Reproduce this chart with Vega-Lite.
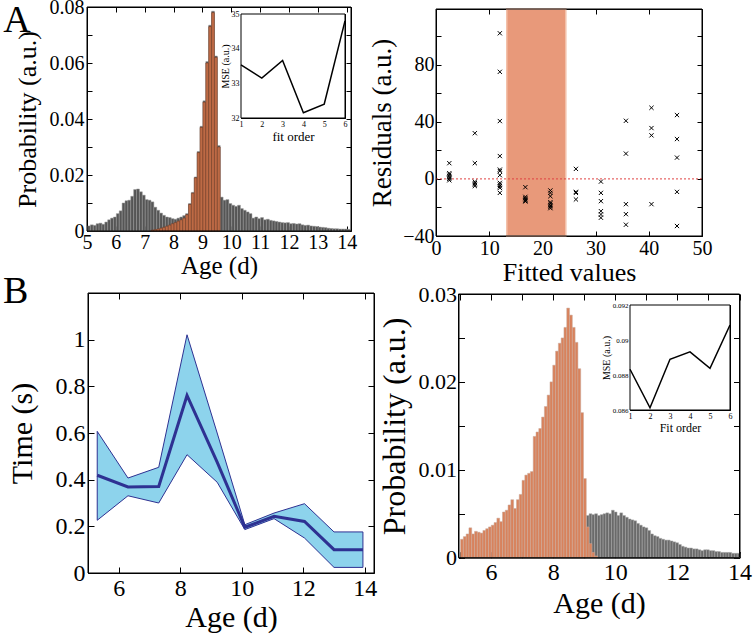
{
"$schema":"https://vega.github.io/schema/vega-lite/v6.json",
"width":754,"height":642,"autosize":{"type":"none"},"padding":0,"background":"white",
"config":{"view":{"stroke":null},"font":"Liberation Serif","style":{"guide-label":{"font":"Liberation Serif"},"guide-title":{"font":"Liberation Serif"}},"axis":{"labelFont":"Liberation Serif","titleFont":"Liberation Serif","titleFontWeight":"normal","labelColor":"#000","titleColor":"#000","domainColor":"#000","tickColor":"#000","grid":false,"labelFlush":false,"labelOverlap":false,"tickWidth":1,"domainWidth":1}},
"resolve":{"scale":{"x":"independent","y":"independent"},"axis":{"x":"independent","y":"independent"}},
"layer":[
{
"resolve":{"axis":{"x":"independent","y":"independent"}},
"layer":[
{"data":{"values":[{"x":5.05,"p":0.0018},{"x":5.15,"p":0.0022},{"x":5.25,"p":0.002},{"x":5.35,"p":0.0026},{"x":5.45,"p":0.0028},{"x":5.55,"p":0.0024},{"x":5.65,"p":0.0032},{"x":5.75,"p":0.004},{"x":5.85,"p":0.0046},{"x":5.95,"p":0.005},{"x":6.05,"p":0.0062},{"x":6.15,"p":0.0072},{"x":6.25,"p":0.01},{"x":6.35,"p":0.0108},{"x":6.45,"p":0.011},{"x":6.55,"p":0.0124},{"x":6.65,"p":0.0148},{"x":6.75,"p":0.015},{"x":6.85,"p":0.014},{"x":6.95,"p":0.0128},{"x":7.05,"p":0.0112},{"x":7.15,"p":0.011},{"x":7.25,"p":0.0104},{"x":7.35,"p":0.0085},{"x":7.45,"p":0.0074},{"x":7.55,"p":0.0064},{"x":7.65,"p":0.0056},{"x":7.75,"p":0.005},{"x":7.85,"p":0.0048},{"x":7.95,"p":0.0044},{"x":8.05,"p":0.0042},{"x":8.15,"p":0.0046},{"x":8.25,"p":0.005},{"x":8.35,"p":0.0055},{"x":8.45,"p":0.0062},{"x":8.55,"p":0.0098},{"x":8.65,"p":0.0138},{"x":8.75,"p":0.0193},{"x":8.85,"p":0.0284},{"x":8.95,"p":0.0374},{"x":9.05,"p":0.0465},{"x":9.15,"p":0.0605},{"x":9.25,"p":0.0735},{"x":9.35,"p":0.0785},{"x":9.45,"p":0.0625},{"x":9.55,"p":0.0305},{"x":9.65,"p":0.0121},{"x":9.75,"p":0.011},{"x":9.85,"p":0.0112},{"x":9.95,"p":0.0098},{"x":10.05,"p":0.0092},{"x":10.15,"p":0.0088},{"x":10.25,"p":0.0092},{"x":10.35,"p":0.008},{"x":10.45,"p":0.0074},{"x":10.55,"p":0.0068},{"x":10.65,"p":0.0062},{"x":10.75,"p":0.0046},{"x":10.85,"p":0.005},{"x":10.95,"p":0.0044},{"x":11.05,"p":0.0048},{"x":11.15,"p":0.004},{"x":11.25,"p":0.0042},{"x":11.35,"p":0.0038},{"x":11.45,"p":0.0036},{"x":11.55,"p":0.0034},{"x":11.65,"p":0.0032},{"x":11.75,"p":0.003},{"x":11.85,"p":0.0029},{"x":11.95,"p":0.003},{"x":12.05,"p":0.0026},{"x":12.15,"p":0.0027},{"x":12.25,"p":0.0025},{"x":12.35,"p":0.0026},{"x":12.45,"p":0.0022},{"x":12.55,"p":0.002},{"x":12.65,"p":0.0021},{"x":12.75,"p":0.0018},{"x":12.85,"p":0.0017},{"x":12.95,"p":0.0016},{"x":13.05,"p":0.0014},{"x":13.15,"p":0.0013},{"x":13.25,"p":0.0012},{"x":13.35,"p":0.001},{"x":13.45,"p":0.0009},{"x":13.55,"p":0.0008},{"x":13.65,"p":0.0008},{"x":13.75,"p":0.0007},{"x":13.85,"p":0.0007},{"x":13.95,"p":0.0007},{"x":14.05,"p":0.0006}]},
 "mark":{"type":"bar","fill":"#555555","stroke":"#999999","strokeWidth":0.5,"binSpacing":0},
 "encoding":{
  "x":{"field":"x","type":"quantitative","bin":{"step":0.1,"extent":[5,14.1],"nice":false},"scale":{"domain":[5,14.15],"range":[87,351],"nice":false,"zero":false},
       "axis":{"orient":"bottom","offset":-411,"values":[5,6,7,8,9,10,11,12,13,14],"labelExpr":"format(datum.value,'~g')","tickSize":-5,"labelPadding":6,"labelFontSize":20,"title":"Age (d)","titleFontSize":25,"titlePadding":1}},
  "y":{"field":"p","type":"quantitative","scale":{"domain":[0,0.08],"range":[231,7],"nice":false},
       "axis":{"orient":"left","offset":-87,"values":[0,0.01,0.02,0.03,0.04,0.05,0.06,0.07,0.08],"labelExpr":"round(datum.value*100)%2==0 ? format(datum.value,'~g') : ''","tickSize":-5,"labelPadding":8,"labelFontSize":20,"title":"Probability (a.u.)","titleFontSize":26,"titlePadding":9}}
 }},
{"data":{"values":[{"x":7.25,"p":0.0003},{"x":7.35,"p":0.0005},{"x":7.45,"p":0.0007},{"x":7.55,"p":0.001},{"x":7.65,"p":0.0013},{"x":7.75,"p":0.0017},{"x":7.85,"p":0.0021},{"x":7.95,"p":0.0026},{"x":8.05,"p":0.003},{"x":8.15,"p":0.0035},{"x":8.25,"p":0.004},{"x":8.35,"p":0.0046},{"x":8.45,"p":0.0058},{"x":8.55,"p":0.0095},{"x":8.65,"p":0.0135},{"x":8.75,"p":0.019},{"x":8.85,"p":0.028},{"x":8.95,"p":0.037},{"x":9.05,"p":0.046},{"x":9.15,"p":0.06},{"x":9.25,"p":0.073},{"x":9.35,"p":0.078},{"x":9.45,"p":0.062},{"x":9.55,"p":0.03}]},
 "mark":{"type":"bar","fill":"#bd6a45","stroke":"#6e3a25","strokeWidth":0.5,"binSpacing":0},
 "encoding":{"x":{"field":"x","type":"quantitative","bin":{"step":0.1,"extent":[5,14.1],"nice":false},"axis":null},"y":{"field":"p","type":"quantitative","axis":null}}},
{"data":{"values":[{}]},
 "mark":{"type":"rect","filled":false,"stroke":"black","strokeWidth":1},
 "encoding":{"x":{"datum":5,"type":"quantitative","axis":{"orient":"top","offset":-7,"values":[5,6,7,8,9,10,11,12,13,14],"labels":false,"tickSize":-5,"title":null}},"x2":{"datum":14.15},
  "y":{"datum":0,"type":"quantitative","axis":{"orient":"right","offset":-403,"values":[0,0.01,0.02,0.03,0.04,0.05,0.06,0.07,0.08],"labels":false,"tickSize":-5,"title":null}},"y2":{"datum":0.08}}},
{"data":{"values":[{}]},
 "mark":{"type":"text","text":"A","font":"Liberation Serif","fontSize":38,"baseline":"alphabetic","align":"center"},
 "encoding":{"x":{"datum":2.57,"type":"quantitative","axis":null},"y":{"datum":0.0711,"type":"quantitative","axis":null}}}
]},
{
"resolve":{"axis":{"x":"independent","y":"independent"}},
"layer":[
{"data":{"values":[{}]},
 "mark":{"type":"rect","fill":"white","stroke":"black","strokeWidth":1},
 "encoding":{"x":{"datum":1,"type":"quantitative","scale":{"domain":[1,6],"range":[241,345],"nice":false,"zero":false},"axis":{"orient":"top","offset":-14,"values":[1,2,3,4,5,6],"labels":false,"tickSize":-3,"title":null}},"x2":{"datum":6},
  "y":{"datum":32,"type":"quantitative","scale":{"domain":[32,35],"range":[118,14],"nice":false,"zero":false},"axis":{"orient":"right","offset":-409,"values":[32,32.5,33,33.5,34,34.5,35],"labels":false,"tickSize":-3,"title":null}},"y2":{"datum":35}}},
{"data":{"values":[{"o":1,"m":33.53},{"o":2,"m":33.15},{"o":3,"m":33.66},{"o":4,"m":32.15},{"o":5,"m":32.4},{"o":6,"m":34.8}]},
 "mark":{"type":"line","color":"black","strokeWidth":1.5},
 "encoding":{"x":{"field":"o","type":"quantitative","axis":{"orient":"bottom","offset":-524,"values":[1,2,3,4,5,6],"tickSize":-3,"labelPadding":5,"labelFontSize":8,"title":"fit order","titleFontSize":13,"titlePadding":2}},
  "y":{"field":"m","type":"quantitative","axis":{"orient":"left","offset":-241,"values":[32,32.5,33,33.5,34,34.5,35],"labelExpr":"datum.value%1==0 ? format(datum.value,'~g') : ''","tickSize":-3,"labelPadding":5,"labelFontSize":8,"title":"MSE (a.u.)","titleFontSize":10,"titlePadding":1}}}}
]},
{
"resolve":{"axis":{"x":"independent","y":"independent"}},
"layer":[
{"data":{"values":[{}]},
 "mark":{"type":"rect","fill":"#e8997a","stroke":"#f3c1aa","strokeWidth":1.5},
 "encoding":{"x":{"datum":13.3,"type":"quantitative","scale":{"domain":[0,50],"range":[436,702],"nice":false,"zero":false},"axis":null},"x2":{"datum":24.4},
  "y":{"datum":-40,"type":"quantitative","scale":{"domain":[-40,119],"range":[236,9],"nice":false,"zero":false},"axis":null},"y2":{"datum":119}}},
{"data":{"values":[{}]},
 "mark":{"type":"rule","color":"#e04040","strokeWidth":1,"strokeDash":[2,2]},
 "encoding":{"x":{"datum":0,"type":"quantitative","axis":null},"x2":{"datum":50},"y":{"datum":0,"type":"quantitative","axis":null}}},
{"data":{"values":[{"x":2.5,"r":11},{"x":2.5,"r":4},{"x":2.5,"r":3},{"x":2.5,"r":2},{"x":2.5,"r":1},{"x":2.5,"r":0},{"x":2.5,"r":-1},
{"x":7.3,"r":32},{"x":7.3,"r":11},{"x":7.3,"r":-2},{"x":7.3,"r":-3},{"x":7.3,"r":-4},{"x":7.3,"r":-5},
{"x":12,"r":102},{"x":12,"r":75},{"x":12,"r":40.5},{"x":12,"r":16},{"x":12,"r":6.5},{"x":12,"r":5.5},{"x":12,"r":2.6},{"x":12,"r":-2.8},{"x":12,"r":-4},{"x":12,"r":-5.1},{"x":12,"r":-6.3},{"x":12,"r":-9.8},
{"x":16.8,"r":-5.8},{"x":16.8,"r":-12.6},{"x":16.8,"r":-13.5},{"x":16.8,"r":-14.4},{"x":16.8,"r":-15.3},{"x":16.8,"r":-15.8},
{"x":21.5,"r":-8.1},{"x":21.5,"r":-9.8},{"x":21.5,"r":-12.1},{"x":21.5,"r":-16.3},{"x":21.5,"r":-17.4},{"x":21.5,"r":-18.6},{"x":21.5,"r":-19.5},{"x":21.5,"r":-20.5},
{"x":26.3,"r":7},{"x":26.3,"r":-9.1},{"x":26.3,"r":-9.8},{"x":26.3,"r":-14.4},
{"x":31,"r":-1.9},{"x":31,"r":-9.8},{"x":31,"r":-15.6},{"x":31,"r":-22.6},{"x":31,"r":-24.9},{"x":31,"r":-27.2},
{"x":35.7,"r":40.7},{"x":35.7,"r":17.7},{"x":35.7,"r":-17.7},{"x":35.7,"r":-24.7},{"x":35.7,"r":-32.1},
{"x":40.5,"r":49.8},{"x":40.5,"r":35.6},{"x":40.5,"r":30.5},{"x":40.5,"r":-17.7},
{"x":45.3,"r":44.7},{"x":45.3,"r":27.9},{"x":45.3,"r":14.9},{"x":45.3,"r":-9.1},{"x":45.3,"r":-33}]},
 "mark":{"type":"point","shape":"M-1,-1L1,1M-1,1L1,-1","filled":false,"color":"black","strokeWidth":1,"size":18,"opacity":1},
 "encoding":{"x":{"field":"x","type":"quantitative","axis":{"orient":"bottom","offset":-406,"values":[0,10,20,30,40,50],"tickSize":-5,"labelPadding":7,"labelFontSize":20,"title":"Fitted values","titleFontSize":26,"titlePadding":1}},
  "y":{"field":"r","type":"quantitative","axis":{"orient":"left","offset":-436,"values":[-40,-20,0,20,40,60,80,100],"labelExpr":"datum.value%40==0 ? datum.label : ''","tickSize":-5,"labelPadding":7,"labelFontSize":20,"title":"Residuals (a.u.)","titleFontSize":27,"titlePadding":6}}}},
{"data":{"values":[{}]},
 "mark":{"type":"rect","filled":false,"stroke":"black","strokeWidth":1},
 "encoding":{"x":{"datum":0,"type":"quantitative","axis":{"orient":"top","offset":-9,"values":[0,10,20,30,40,50],"labels":false,"tickSize":-5,"title":null}},"x2":{"datum":50},
  "y":{"datum":-40,"type":"quantitative","axis":{"orient":"right","offset":-52,"values":[-40,-20,0,20,40,60,80,100],"labels":false,"tickSize":-5,"title":null}},"y2":{"datum":119}}}
]},
{
"resolve":{"axis":{"x":"independent","y":"independent"}},
"layer":[
{"data":{"values":[{"x":5.3,"lo":0.226,"m":0.419,"hi":0.607},{"x":6.3,"lo":0.331,"m":0.369,"hi":0.407},{"x":7.3,"lo":0.3,"m":0.371,"hi":0.453},{"x":8.22,"lo":0.507,"m":0.761,"hi":1.021},{"x":9.2,"lo":0.389,"m":0.475,"hi":0.6},{"x":10.1,"lo":0.186,"m":0.196,"hi":0.207},{"x":11.05,"lo":0.233,"m":0.243,"hi":0.257},{"x":12.04,"lo":0.15,"m":0.221,"hi":0.297},{"x":13,"lo":0.024,"m":0.1,"hi":0.176},{"x":13.94,"lo":0.024,"m":0.1,"hi":0.176}]},
 "mark":{"type":"area","fill":"#8dd3ec","stroke":"#2e3192","strokeWidth":1,"opacity":1},
 "encoding":{"x":{"field":"x","type":"quantitative","scale":{"domain":[5,14.3],"range":[88,374],"nice":false,"zero":false},
      "axis":{"orient":"bottom","offset":-69,"values":[6,8,10,12,14],"tickSize":-6,"labelPadding":9,"labelFontSize":24,"title":"Age (d)","titleFontSize":30,"titlePadding":2}},
    "y":{"field":"lo","type":"quantitative","scale":{"domain":[0,1.2],"range":[573,293],"nice":false,"zero":false},
      "axis":{"orient":"left","offset":-88,"values":[0,0.2,0.4,0.6,0.8,1],"labelExpr":"format(datum.value,'~g')","tickSize":-6,"labelPadding":9,"labelFontSize":24,"title":"Time (s)","titleFontSize":30,"titlePadding":18}},
    "y2":{"field":"hi"}}},
{"data":{"values":[{"x":5.3,"m":0.419},{"x":6.3,"m":0.369},{"x":7.3,"m":0.371},{"x":8.22,"m":0.761},{"x":9.2,"m":0.475},{"x":10.1,"m":0.196},{"x":11.05,"m":0.243},{"x":12.04,"m":0.221},{"x":13,"m":0.1},{"x":13.94,"m":0.1}]},
 "mark":{"type":"line","color":"#2e3192","strokeWidth":3},
 "encoding":{"x":{"field":"x","type":"quantitative","axis":null},"y":{"field":"m","type":"quantitative","axis":null}}},
{"data":{"values":[{}]},
 "mark":{"type":"rect","filled":false,"stroke":"black","strokeWidth":1},
 "encoding":{"x":{"datum":5,"type":"quantitative","axis":{"orient":"top","offset":-293,"values":[6,8,10,12,14],"labels":false,"tickSize":-6,"title":null}},"x2":{"datum":14.3},
  "y":{"datum":0,"type":"quantitative","axis":{"orient":"right","offset":-380,"values":[0,0.2,0.4,0.6,0.8,1],"labels":false,"tickSize":-6,"title":null}},"y2":{"datum":1.2}}},
{"data":{"values":[{}]},
 "mark":{"type":"text","text":"B","font":"Liberation Serif","fontSize":38,"baseline":"alphabetic","align":"center"},
 "encoding":{"x":{"datum":2.65,"type":"quantitative","axis":null},"y":{"datum":1.157,"type":"quantitative","axis":null}}}
]},
{
"resolve":{"axis":{"x":"independent","y":"independent"}},
"layer":[
{"data":{"values":[{"x":9.095,"p":0.0048},{"x":9.185,"p":0.005},{"x":9.275,"p":0.0049},{"x":9.365,"p":0.005},{"x":9.455,"p":0.0048},{"x":9.545,"p":0.0049},{"x":9.635,"p":0.005},{"x":9.725,"p":0.0051},{"x":9.815,"p":0.005},{"x":9.905,"p":0.0054},{"x":9.995,"p":0.0052},{"x":10.085,"p":0.0048},{"x":10.175,"p":0.0051},{"x":10.265,"p":0.0048},{"x":10.355,"p":0.0046},{"x":10.445,"p":0.0044},{"x":10.535,"p":0.0043},{"x":10.625,"p":0.0042},{"x":10.715,"p":0.0039},{"x":10.805,"p":0.0037},{"x":10.895,"p":0.0035},{"x":10.985,"p":0.0034},{"x":11.075,"p":0.0031},{"x":11.165,"p":0.0027},{"x":11.255,"p":0.0025},{"x":11.345,"p":0.0024},{"x":11.435,"p":0.0022},{"x":11.525,"p":0.0021},{"x":11.615,"p":0.002},{"x":11.705,"p":0.002},{"x":11.795,"p":0.0019},{"x":11.885,"p":0.0018},{"x":11.975,"p":0.0017},{"x":12.065,"p":0.0015},{"x":12.155,"p":0.0013},{"x":12.245,"p":0.0012},{"x":12.335,"p":0.0011},{"x":12.425,"p":0.0011},{"x":12.515,"p":0.001},{"x":12.605,"p":0.001},{"x":12.695,"p":0.0009},{"x":12.785,"p":0.0008},{"x":12.875,"p":0.0009},{"x":12.965,"p":0.0009},{"x":13.055,"p":0.0008},{"x":13.145,"p":0.0008},{"x":13.235,"p":0.0007},{"x":13.325,"p":0.0007},{"x":13.415,"p":0.0006},{"x":13.505,"p":0.0006},{"x":13.595,"p":0.0006},{"x":13.685,"p":0.0006},{"x":13.775,"p":0.0005},{"x":13.865,"p":0.0005},{"x":13.955,"p":0.0005}]},
 "mark":{"type":"bar","fill":"#6a6a6a","stroke":"#a8a8a8","strokeWidth":0.5,"binSpacing":0},
 "encoding":{
  "x":{"field":"x","type":"quantitative","bin":{"step":0.09,"extent":[5,14],"nice":false},"scale":{"domain":[4.95,14],"range":[458.5,739.5],"nice":false,"zero":false},
       "axis":{"orient":"bottom","offset":-84.3,"values":[5,6,7,8,9,10,11,12,13,14],"labelExpr":"datum.value%2==0 ? format(datum.value,'~g') : ''","tickSize":-6,"labelPadding":9,"labelFontSize":24,"title":"Age (d)","titleFontSize":30,"titlePadding":4}},
  "y":{"field":"p","type":"quantitative","scale":{"domain":[0,0.03],"range":[557.7,294],"nice":false},
       "axis":{"orient":"left","offset":-458.5,"values":[0,0.005,0.01,0.015,0.02,0.025,0.03],"labelExpr":"round(datum.value*1000)%10==0 ? format(datum.value,'~g') : ''","tickSize":-6,"labelPadding":8,"labelFontSize":22,"title":"Probability (a.u.)","titleFontSize":32,"titlePadding":7}}
 }},
{"data":{"values":[{"x":5.045,"p":0.0021},{"x":5.135,"p":0.0024},{"x":5.225,"p":0.0027},{"x":5.315,"p":0.0034},{"x":5.405,"p":0.0027},{"x":5.495,"p":0.003},{"x":5.585,"p":0.0029},{"x":5.675,"p":0.0028},{"x":5.765,"p":0.0031},{"x":5.855,"p":0.0033},{"x":5.945,"p":0.0035},{"x":6.035,"p":0.0037},{"x":6.125,"p":0.004},{"x":6.215,"p":0.0045},{"x":6.305,"p":0.0041},{"x":6.395,"p":0.0052},{"x":6.485,"p":0.0054},{"x":6.575,"p":0.006},{"x":6.665,"p":0.0066},{"x":6.755,"p":0.0056},{"x":6.845,"p":0.0066},{"x":6.935,"p":0.0072},{"x":7.025,"p":0.0088},{"x":7.115,"p":0.0094},{"x":7.205,"p":0.0096},{"x":7.295,"p":0.0098},{"x":7.385,"p":0.0138},{"x":7.475,"p":0.0143},{"x":7.565,"p":0.0147},{"x":7.655,"p":0.016},{"x":7.745,"p":0.0172},{"x":7.835,"p":0.0185},{"x":7.925,"p":0.02},{"x":8.015,"p":0.0219},{"x":8.105,"p":0.0235},{"x":8.195,"p":0.0244},{"x":8.285,"p":0.025},{"x":8.375,"p":0.0262},{"x":8.465,"p":0.0284},{"x":8.555,"p":0.0276},{"x":8.645,"p":0.0262},{"x":8.735,"p":0.0245},{"x":8.825,"p":0.0215},{"x":8.915,"p":0.0165},{"x":9.005,"p":0.009},{"x":9.095,"p":0.0035},{"x":9.185,"p":0.0016},{"x":9.275,"p":0.0006},{"x":9.365,"p":0.0002}]},
 "mark":{"type":"bar","fill":"#d8825c","stroke":"#c9aa9c","strokeWidth":0.5,"binSpacing":0},
 "encoding":{"x":{"field":"x","type":"quantitative","bin":{"step":0.09,"extent":[5,14],"nice":false},"axis":null},"y":{"field":"p","type":"quantitative","axis":null}}},
{"data":{"values":[{}]},
 "mark":{"type":"rect","filled":false,"stroke":"black","strokeWidth":1},
 "encoding":{"x":{"datum":4.95,"type":"quantitative","axis":{"orient":"top","offset":-294,"values":[5,6,7,8,9,10,11,12,13,14],"labels":false,"tickSize":-6,"title":null}},"x2":{"datum":14},
  "y":{"datum":0,"type":"quantitative","axis":{"orient":"right","offset":-14.5,"values":[0,0.005,0.01,0.015,0.02,0.025,0.03],"labels":false,"tickSize":-6,"title":null}},"y2":{"datum":0.03}}}
]},
{
"resolve":{"axis":{"x":"independent","y":"independent"}},
"layer":[
{"data":{"values":[{}]},
 "mark":{"type":"rect","fill":"white","stroke":"black","strokeWidth":1},
 "encoding":{"x":{"datum":1,"type":"quantitative","scale":{"domain":[1,6],"range":[630,730],"nice":false,"zero":false},"axis":{"orient":"top","offset":-305,"values":[1,2,3,4,5,6],"labels":false,"tickSize":-3,"title":null}},"x2":{"datum":6},
  "y":{"datum":0.086,"type":"quantitative","scale":{"domain":[0.086,0.092],"range":[410,305],"nice":false,"zero":false},"axis":{"orient":"right","offset":-24,"values":[0.086,0.087,0.088,0.089,0.09,0.091,0.092],"labels":false,"tickSize":-3,"title":null}},"y2":{"datum":0.092}}},
{"data":{"values":[{"o":1,"m":0.08833},{"o":2,"m":0.08613},{"o":3,"m":0.0889},{"o":4,"m":0.08932},{"o":5,"m":0.08838},{"o":6,"m":0.09086}]},
 "mark":{"type":"line","color":"black","strokeWidth":1.5},
 "encoding":{"x":{"field":"o","type":"quantitative","axis":{"orient":"bottom","offset":-232,"values":[1,2,3,4,5,6],"tickSize":-3,"labelPadding":5,"labelFontSize":8,"title":"Fit order","titleFontSize":12,"titlePadding":2}},
  "y":{"field":"m","type":"quantitative","axis":{"orient":"left","offset":-630,"values":[0.086,0.087,0.088,0.089,0.09,0.091,0.092],"labelExpr":"round(datum.value*1000)%2==0 ? format(datum.value,'~g') : ''","tickSize":-3,"labelPadding":5,"labelFontSize":7,"title":"MSE (a.u.)","titleFontSize":10,"titlePadding":1}}}}
]}
]
}
